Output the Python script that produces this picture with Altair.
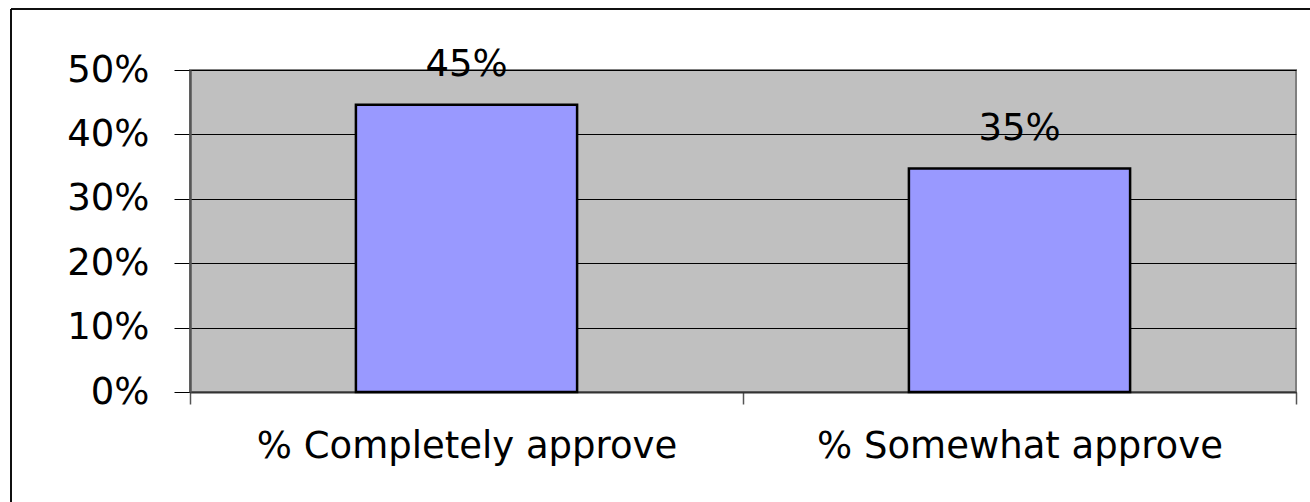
import altair as alt
import pandas as pd

categories = ["% Completely approve", "% Somewhat approve"]
values = [0.446, 0.347]
labels = ["45%", "35%"]

df = pd.DataFrame({"category": categories, "value": values, "label": labels})

FONT = "DejaVu Sans"
FS = 37

x_enc = alt.X(
    "category:N",
    sort=categories,
    scale=alt.Scale(paddingInner=0, paddingOuter=0),
    axis=alt.Axis(
        title=None,
        labelAngle=0,
        labelFont=FONT,
        labelFontSize=FS,
        labelColor="black",
        labelBaseline="alphabetic",
        labelPadding=53,
        labelLimit=0,
        tickBand="extent",
        tickSize=12,
        tickColor="#555555",
        tickWidth=1.5,
        domainColor="#333333",
        domainWidth=2,
        grid=False,
    ),
)
y_enc = alt.Y(
    "value:Q",
    scale=alt.Scale(domain=[0, 0.5], nice=False),
    axis=alt.Axis(
        title=None,
        values=[0, 0.1, 0.2, 0.3, 0.4, 0.5],
        format=".0%",
        labelFont=FONT,
        labelFontSize=FS,
        labelColor="black",
        labelPadding=25,
        labelLimit=0,
        tickSize=16,
        tickColor="black",
        tickWidth=1,
        domainColor="#555555",
        domainWidth=2.5,
        grid=True,
        gridColor="black",
        gridWidth=1,
        gridOpacity=1,
    ),
)

bars = alt.Chart(df).mark_bar(
    width=alt.RelativeBandSize(0.4),
    color="#9999FF",
    stroke="black",
    strokeWidth=2.5,
).encode(x=x_enc, y=y_enc)

text = alt.Chart(df).mark_text(
    font=FONT, fontSize=FS, color="black", baseline="alphabetic", dy=-29
).encode(x=alt.X("category:N", sort=categories), y="value:Q", text="label:N")

frame_left = alt.Chart(df).mark_rule(color="black", strokeWidth=1.5).encode(
    x=alt.value(-179), y=alt.value(-61), y2=alt.value(440)
)
frame_top = alt.Chart(df).mark_rule(color="black", strokeWidth=1.5).encode(
    x=alt.value(-179), x2=alt.value(1130), y=alt.value(-61)
)

chart = (
    alt.layer(bars, text, frame_left, frame_top)
    .properties(
        width=1106,
        height=322,
        autosize=alt.AutoSizeParams(type="none"),
        padding={"left": 190, "top": 70, "right": 14, "bottom": 110},
        background="white",
    )
    .configure_view(fill="#C0C0C0", stroke="#808080", strokeWidth=2)
)

chart.save("out.html", embed_options={"renderer": "svg", "actions": False})
